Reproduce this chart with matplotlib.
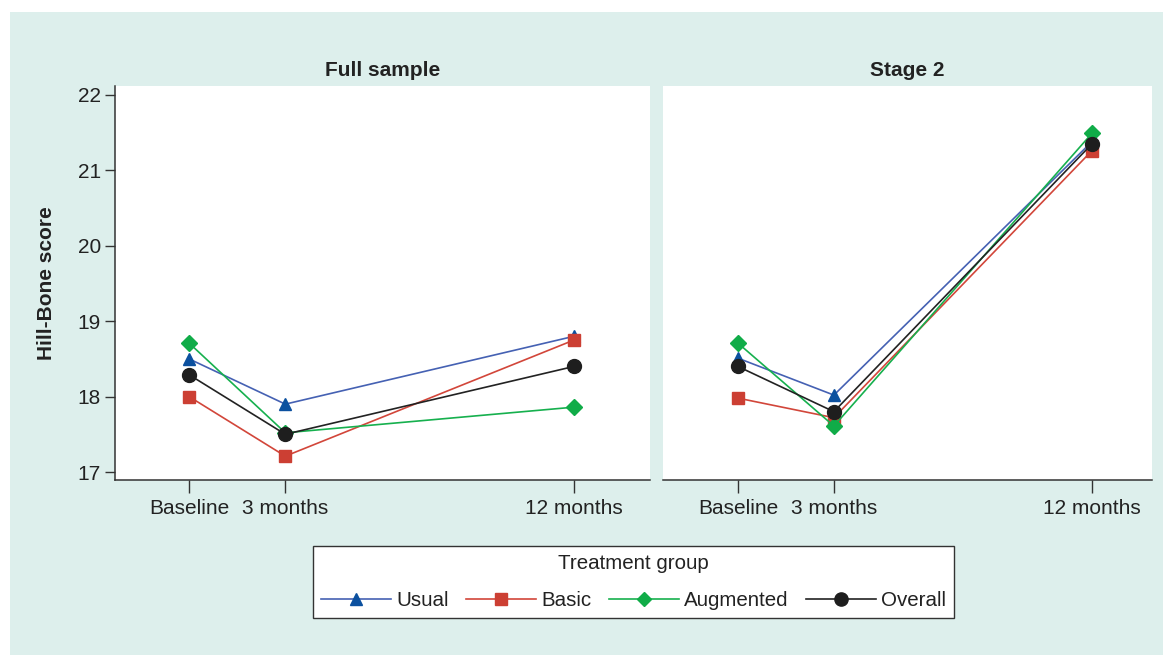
import matplotlib
matplotlib.use("Agg")
import matplotlib.pyplot as plt
from matplotlib.patches import Rectangle
from matplotlib.lines import Line2D

plt.rcParams['font.family'] = ['Liberation Sans', 'DejaVu Sans']

# ---- data ----
time_labels = ["Baseline", "3 months", "12 months"]
months_full = [0, 3, 12]
months_stage2 = [0, 3, 11.06]
groups = ["Usual", "Basic", "Augmented", "Overall"]

full_usual = [18.50, 17.90, 18.80]
full_basic = [18.00, 17.21, 18.75]
full_augmented = [18.71, 17.52, 17.86]
full_overall = [18.29, 17.50, 18.40]

stage2_usual = [18.51, 18.02, 21.38]
stage2_basic = [17.98, 17.72, 21.26]
stage2_augmented = [18.71, 17.61, 21.49]
stage2_overall = [18.40, 17.80, 21.35]

yticks = [17, 18, 19, 20, 21, 22]

# ---- styles ----
line_colors = {"Usual": "#4561b3", "Basic": "#d2463a", "Augmented": "#16b04e", "Overall": "#222222"}
marker_colors = {"Usual": "#0b509f", "Basic": "#cc3f33", "Augmented": "#10ac48", "Overall": "#1e1e1e"}
markers = {"Usual": "^", "Basic": "s", "Augmented": "D", "Overall": "o"}
msizes = {"Usual": 9, "Basic": 8.5, "Augmented": 8, "Overall": 10}

W, H = 1163, 655
fig = plt.figure(figsize=(W / 100, H / 100), dpi=100)
fig.patch.set_facecolor("white")
bg = Rectangle((10 / W, 0), 1 - 10 / W, 1 - 12 / H, transform=fig.transFigure,
               facecolor="#ddefec", edgecolor="none", zorder=-10)
fig.add_artist(bg)

def fx(px):
    return px / W

def fy(py):
    return 1 - py / H

ax1 = fig.add_axes([fx(115), fy(480), fx(650) - fx(115), fy(86) - fy(480)])
ax2 = fig.add_axes([fx(663), fy(480), fx(1152) - fx(663), fy(86) - fy(480)])

spine_col = "#333333"
text_col = "#222222"
fs = 15
ylo = 17 - 8 / 75.4
yhi = 22 + 9 / 75.4

panels = [
    (ax1, months_full, [full_usual, full_basic, full_augmented, full_overall], "Full sample",
     (-2.31, 14.37)),
    (ax2, months_stage2, [stage2_usual, stage2_basic, stage2_augmented, stage2_overall], "Stage 2",
     (-2.34, 12.94)),
]

for ax, xs, series, title, xlim in panels:
    ax.set_facecolor("white")
    for g, vals in zip(groups, series):
        ax.plot(xs, vals, color=line_colors[g], lw=1.2, marker=markers[g],
                markersize=msizes[g], markerfacecolor=marker_colors[g],
                markeredgecolor=marker_colors[g], zorder=3)
    ax.set_xlim(*xlim)
    ax.set_ylim(ylo, yhi)
    ax.set_xticks(xs)
    ax.set_xticklabels(time_labels, fontsize=fs, color=text_col)
    ax.tick_params(axis="x", length=9, width=1, color=spine_col, pad=5)
    for s in ["top", "right"]:
        ax.spines[s].set_visible(False)
    ax.spines["bottom"].set_color(spine_col)
    ax.spines["bottom"].set_linewidth(1.1)
    ax.set_title(title, fontsize=fs, fontweight="bold", color=text_col, pad=7)

ax1.set_yticks(yticks)
ax1.set_yticklabels([str(v) for v in yticks], fontsize=fs, color=text_col)
ax1.tick_params(axis="y", length=7, width=1, color=spine_col, pad=3)
ax1.spines["left"].set_color(spine_col)
ax1.spines["left"].set_linewidth(1.1)
ax1.set_ylabel("Hill-Bone score", fontsize=fs, fontweight="bold", color=text_col, labelpad=16)

ax2.spines["left"].set_visible(False)
ax2.set_yticks([])

handles = [Line2D([0], [0], color=line_colors[g], lw=1.2, marker=markers[g],
                  markersize=msizes[g] - 0.5, markerfacecolor=marker_colors[g],
                  markeredgecolor=marker_colors[g]) for g in groups]
leg = fig.legend(handles, groups, loc="center", bbox_to_anchor=(fx(633.5), fy(582)),
                 ncol=4, title="Treatment group", fontsize=14.8, title_fontsize=14.8,
                 frameon=True, fancybox=False, edgecolor="#333333", facecolor="white",
                 handlelength=3.4, handletextpad=0.25, columnspacing=0.85,
                 borderpad=0.42, labelspacing=0.85)
for t in leg.get_texts():
    t.set_color(text_col)
leg.get_title().set_color(text_col)
leg.get_frame().set_linewidth(1.0)
leg.get_frame().set_alpha(1)

fig.savefig("out.png", dpi=100, facecolor=fig.get_facecolor())
